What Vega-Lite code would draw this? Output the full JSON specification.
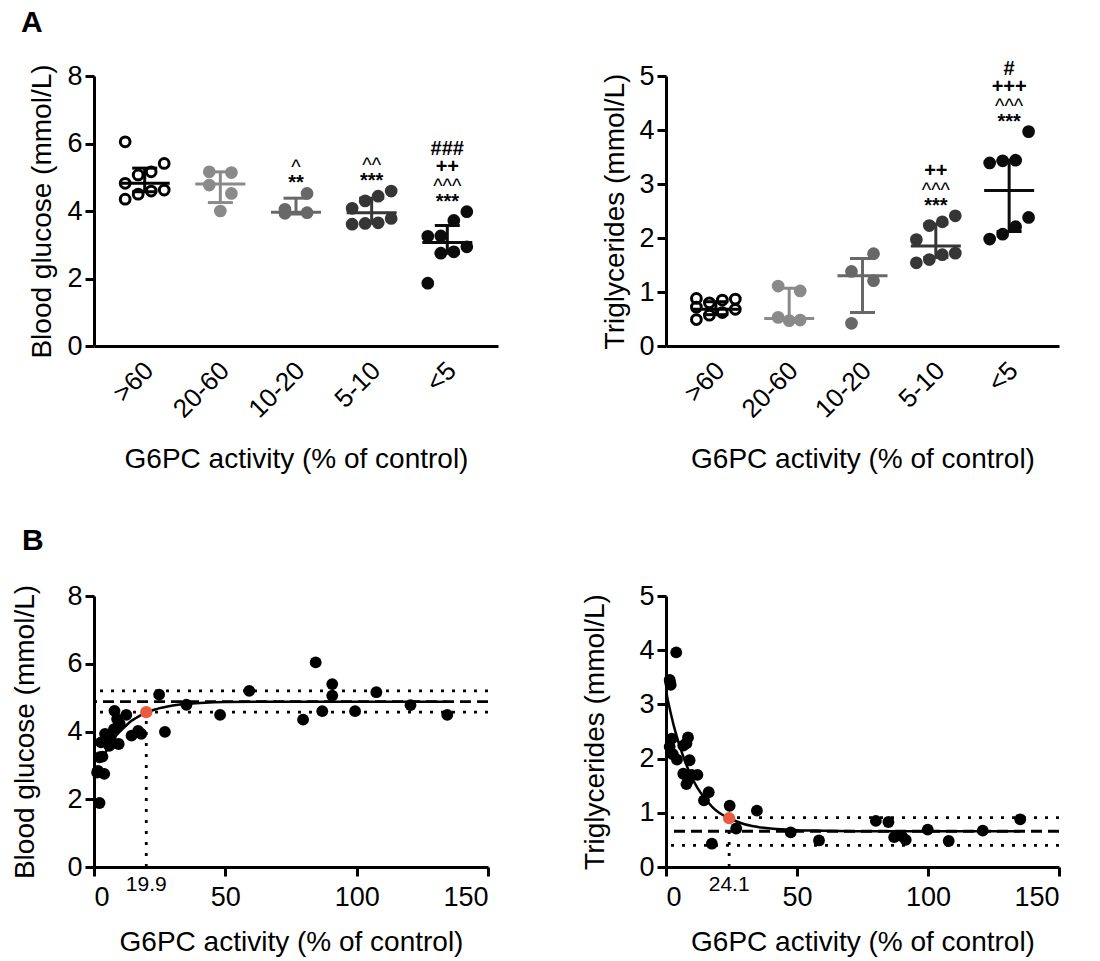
{
  "$schema": "https://vega.github.io/schema/vega-lite/v6.json",
  "background": "white",
  "padding": {"left": 11, "top": 8, "right": 5, "bottom": 2},
  "columns": 2,
  "spacing": {"row": 52, "column": 83},
  "datasets": {
    "gluA": [
      {"group": ">60", "value": 6.05}, {"group": ">60", "value": 5.41}, {"group": ">60", "value": 5.16}, {"group": ">60", "value": 5.07}, {"group": ">60", "value": 4.82}, {"group": ">60", "value": 4.62}, {"group": ">60", "value": 4.59}, {"group": ">60", "value": 4.50}, {"group": ">60", "value": 4.35},
      {"group": "20-60", "value": 5.16}, {"group": "20-60", "value": 5.14}, {"group": "20-60", "value": 4.77}, {"group": "20-60", "value": 4.52}, {"group": "20-60", "value": 4.00},
      {"group": "10-20", "value": 4.52}, {"group": "10-20", "value": 4.05}, {"group": "10-20", "value": 3.95}, {"group": "10-20", "value": 3.93},
      {"group": "5-10", "value": 4.59}, {"group": "5-10", "value": 4.44}, {"group": "5-10", "value": 4.30}, {"group": "5-10", "value": 4.08}, {"group": "5-10", "value": 3.78}, {"group": "5-10", "value": 3.65}, {"group": "5-10", "value": 3.63}, {"group": "5-10", "value": 3.61},
      {"group": "<5", "value": 3.98}, {"group": "<5", "value": 3.72}, {"group": "<5", "value": 3.26}, {"group": "<5", "value": 3.25}, {"group": "<5", "value": 2.94}, {"group": "<5", "value": 2.79}, {"group": "<5", "value": 2.75}, {"group": "<5", "value": 1.86}
    ],
    "tgA": [
      {"group": ">60", "value": 0.88}, {"group": ">60", "value": 0.87}, {"group": ">60", "value": 0.85}, {"group": ">60", "value": 0.80}, {"group": ">60", "value": 0.72}, {"group": ">60", "value": 0.68}, {"group": ">60", "value": 0.62}, {"group": ">60", "value": 0.57}, {"group": ">60", "value": 0.49},
      {"group": "20-60", "value": 1.11}, {"group": "20-60", "value": 1.02}, {"group": "20-60", "value": 0.53}, {"group": "20-60", "value": 0.48}, {"group": "20-60", "value": 0.47},
      {"group": "10-20", "value": 1.71}, {"group": "10-20", "value": 1.38}, {"group": "10-20", "value": 1.21}, {"group": "10-20", "value": 0.42},
      {"group": "5-10", "value": 2.41}, {"group": "5-10", "value": 2.30}, {"group": "5-10", "value": 2.23}, {"group": "5-10", "value": 1.97}, {"group": "5-10", "value": 1.72}, {"group": "5-10", "value": 1.69}, {"group": "5-10", "value": 1.60}, {"group": "5-10", "value": 1.54},
      {"group": "<5", "value": 3.97}, {"group": "<5", "value": 3.44}, {"group": "<5", "value": 3.43}, {"group": "<5", "value": 3.39}, {"group": "<5", "value": 2.38}, {"group": "<5", "value": 2.21}, {"group": "<5", "value": 2.07}, {"group": "<5", "value": 1.98}
    ],
    "gluSum": [
      {"group": ">60", "median": 4.82, "q1": 4.57, "q3": 5.27, "top": 6.05, "sig": ""},
      {"group": "20-60", "median": 4.80, "q1": 4.25, "q3": 5.16, "top": 5.16, "sig": ""},
      {"group": "10-20", "median": 3.96, "q1": 3.91, "q3": 4.38, "top": 4.52, "sig": "^\n**"},
      {"group": "5-10", "median": 3.95, "q1": 3.64, "q3": 4.38, "top": 4.59, "sig": "^^\n***"},
      {"group": "<5", "median": 3.07, "q1": 2.75, "q3": 3.57, "top": 3.98, "sig": "###\n++\n^^^\n***"}
    ],
    "tgSum": [
      {"group": ">60", "median": 0.68, "q1": 0.58, "q3": 0.82, "top": 0.88, "sig": ""},
      {"group": "20-60", "median": 0.51, "q1": 0.48, "q3": 1.07, "top": 1.11, "sig": ""},
      {"group": "10-20", "median": 1.30, "q1": 0.62, "q3": 1.62, "top": 1.71, "sig": ""},
      {"group": "5-10", "median": 1.85, "q1": 1.64, "q3": 2.26, "top": 2.41, "sig": "++\n^^^\n***"},
      {"group": "<5", "median": 2.88, "q1": 2.12, "q3": 3.44, "top": 3.97, "sig": "#\n+++\n^^^\n***"}
    ],
    "gluB": [
      {"activity": 2.1, "glucose": 1.89}, {"activity": 1.5, "glucose": 2.84}, {"activity": 3.9, "glucose": 2.75}, {"activity": 1.2, "glucose": 2.79}, {"activity": 2.1, "glucose": 3.24}, {"activity": 3.2, "glucose": 3.26}, {"activity": 2.7, "glucose": 3.68}, {"activity": 4.2, "glucose": 3.93},
      {"activity": 5.8, "glucose": 3.58}, {"activity": 6.4, "glucose": 3.78}, {"activity": 7.0, "glucose": 3.65}, {"activity": 7.6, "glucose": 4.07}, {"activity": 7.8, "glucose": 4.61}, {"activity": 8.8, "glucose": 4.37}, {"activity": 9.4, "glucose": 3.63}, {"activity": 9.8, "glucose": 4.22},
      {"activity": 12.3, "glucose": 4.49}, {"activity": 14.3, "glucose": 3.88}, {"activity": 16.8, "glucose": 4.02}, {"activity": 18.0, "glucose": 3.93},
      {"activity": 24.8, "glucose": 5.09}, {"activity": 27.0, "glucose": 3.99}, {"activity": 35.2, "glucose": 4.79}, {"activity": 48.0, "glucose": 4.49}, {"activity": 59.1, "glucose": 5.20},
      {"activity": 79.6, "glucose": 4.35}, {"activity": 84.4, "glucose": 6.04}, {"activity": 86.9, "glucose": 4.60}, {"activity": 90.7, "glucose": 5.40}, {"activity": 90.7, "glucose": 5.06}, {"activity": 99.4, "glucose": 4.60}, {"activity": 107.5, "glucose": 5.16}, {"activity": 120.5, "glucose": 4.78}, {"activity": 134.5, "glucose": 4.49}
    ],
    "tgB": [
      {"activity": 3.9, "tg": 3.96}, {"activity": 1.4, "tg": 3.45}, {"activity": 1.6, "tg": 3.40}, {"activity": 1.8, "tg": 3.36}, {"activity": 2.2, "tg": 2.37}, {"activity": 1.4, "tg": 2.22}, {"activity": 2.6, "tg": 2.08}, {"activity": 4.2, "tg": 1.98},
      {"activity": 6.6, "tg": 2.24}, {"activity": 8.4, "tg": 2.39}, {"activity": 7.8, "tg": 2.28}, {"activity": 9.0, "tg": 1.97}, {"activity": 6.6, "tg": 1.72}, {"activity": 8.4, "tg": 1.60}, {"activity": 7.8, "tg": 1.53}, {"activity": 9.8, "tg": 1.70},
      {"activity": 12.0, "tg": 1.70}, {"activity": 16.3, "tg": 1.38}, {"activity": 14.5, "tg": 1.23}, {"activity": 17.5, "tg": 0.43},
      {"activity": 24.3, "tg": 1.13}, {"activity": 26.8, "tg": 0.71}, {"activity": 34.7, "tg": 1.04}, {"activity": 47.6, "tg": 0.64}, {"activity": 58.4, "tg": 0.49},
      {"activity": 80.1, "tg": 0.85}, {"activity": 84.9, "tg": 0.83}, {"activity": 87.1, "tg": 0.55}, {"activity": 90.0, "tg": 0.57}, {"activity": 91.5, "tg": 0.50}, {"activity": 99.9, "tg": 0.69}, {"activity": 107.9, "tg": 0.48}, {"activity": 120.9, "tg": 0.67}, {"activity": 135.2, "tg": 0.88}
    ],
    "gluFit": [
      {"activity": 3, "glucose": 3.12}, {"activity": 4, "glucose": 3.31}, {"activity": 5, "glucose": 3.48}, {"activity": 6, "glucose": 3.62}, {"activity": 7, "glucose": 3.73}, {"activity": 8, "glucose": 3.84}, {"activity": 10, "glucose": 4.01}, {"activity": 12, "glucose": 4.16}, {"activity": 14, "glucose": 4.30}, {"activity": 16, "glucose": 4.40}, {"activity": 18, "glucose": 4.49}, {"activity": 19.9, "glucose": 4.57}, {"activity": 22, "glucose": 4.62}, {"activity": 25, "glucose": 4.69}, {"activity": 28, "glucose": 4.74}, {"activity": 32, "glucose": 4.79}, {"activity": 36, "glucose": 4.82}, {"activity": 42, "glucose": 4.85}, {"activity": 50, "glucose": 4.87}, {"activity": 65, "glucose": 4.88}, {"activity": 134.5, "glucose": 4.88}
    ],
    "tgFit": [
      {"activity": 0.3, "tg": 3.18}, {"activity": 1, "tg": 3.01}, {"activity": 2, "tg": 2.80}, {"activity": 3, "tg": 2.60}, {"activity": 4, "tg": 2.43}, {"activity": 5, "tg": 2.26}, {"activity": 6, "tg": 2.12}, {"activity": 8, "tg": 1.86}, {"activity": 10, "tg": 1.64}, {"activity": 12, "tg": 1.46}, {"activity": 14, "tg": 1.32}, {"activity": 16, "tg": 1.20}, {"activity": 18, "tg": 1.09}, {"activity": 20, "tg": 1.01}, {"activity": 22, "tg": 0.95}, {"activity": 24.1, "tg": 0.90}, {"activity": 27, "tg": 0.84}, {"activity": 30, "tg": 0.79}, {"activity": 35, "tg": 0.74}, {"activity": 40, "tg": 0.71}, {"activity": 50, "tg": 0.68}, {"activity": 60, "tg": 0.67}, {"activity": 80, "tg": 0.66}, {"activity": 135.2, "tg": 0.66}
    ],
    "gluRef": [
      {"glucose": 4.88, "kind": "plateau"}, {"glucose": 5.20, "kind": "bound"}, {"glucose": 4.57, "kind": "bound"}
    ],
    "tgRef": [
      {"tg": 0.66, "kind": "plateau"}, {"tg": 0.91, "kind": "bound"}, {"tg": 0.40, "kind": "bound"}
    ],
    "gluThr": [{"activity": 19.9, "glucose": 4.57, "label": "19.9"}],
    "tgThr": [{"activity": 24.1, "tg": 0.90, "label": "24.1"}]
  },
  "concat": [
    {
      "width": 404,
      "height": 270,
      "title": {"text": "A", "anchor": "start", "frame": "group", "fontSize": 30, "fontWeight": "bold", "dx": -73, "offset": 24},
      "layer": [
        {
          "data": {"name": "gluA"},
          "transform": [
            {"window": [{"op": "row_number", "as": "rank"}], "groupby": ["group"], "sort": [{"field": "value", "order": "ascending"}]},
            {"joinaggregate": [{"op": "count", "as": "n"}], "groupby": ["group"]},
            {"calculate": "datum.n >= 8 ? ((datum.rank - 1) % 4) - 1.5 : ((datum.rank == 1 && datum.n % 2 == 1) ? 0 : (datum.rank % 2 == 0 ? 0.85 : -0.85))", "as": "off"},
            {"calculate": "indexof(['>60','20-60','10-20','5-10','<5'], datum.group) + datum.off * 0.172", "as": "xpos"}
          ],
          "mark": {"type": "point", "shape": "circle", "size": 95, "strokeWidth": 3, "opacity": 1},
          "encoding": {
            "x": {"field": "xpos", "type": "quantitative", "scale": {"domain": [-0.67, 4.67], "nice": false, "zero": false},
                  "axis": {"title": "G6PC activity (% of control)", "values": [0, 1, 2, 3, 4], "labelExpr": "['>60','20-60','10-20','5-10','<5'][datum.value]", "ticks": false, "labelAngle": -45, "labelAlign": "right", "labelBaseline": "top", "labelPadding": 11, "labelOffset": -5, "labelFontSize": 26, "titlePadding": 23}},
            "y": {"field": "value", "type": "quantitative", "scale": {"domain": [0, 8], "nice": false},
                  "axis": {"title": "Blood glucose (mmol/L)", "values": [0, 2, 4, 6, 8], "titlePadding": 10}},
            "fill": {"field": "group", "type": "nominal", "scale": {"domain": [">60", "20-60", "10-20", "5-10", "<5"], "range": ["transparent", "#8a8a8a", "#686868", "#363636", "#0c0c0c"]}, "legend": null},
            "stroke": {"field": "group", "type": "nominal", "scale": {"domain": [">60", "20-60", "10-20", "5-10", "<5"], "range": ["#000000", "#8a8a8a", "#686868", "#363636", "#0c0c0c"]}, "legend": null}
          }
        },
        {
          "data": {"name": "gluSum"},
          "transform": [{"calculate": "indexof(['>60','20-60','10-20','5-10','<5'], datum.group)", "as": "xpos"}],
          "mark": {"type": "rule", "strokeWidth": 3},
          "encoding": {
            "x": {"field": "xpos", "type": "quantitative"},
            "y": {"field": "q1", "type": "quantitative"},
            "y2": {"field": "q3"},
            "stroke": {"field": "group", "type": "nominal", "legend": null}
          }
        },
        {
          "data": {"name": "gluSum"},
          "transform": [{"calculate": "indexof(['>60','20-60','10-20','5-10','<5'], datum.group)", "as": "xpos"}],
          "mark": {"type": "tick", "orient": "horizontal", "size": 50, "thickness": 3, "opacity": 1},
          "encoding": {
            "x": {"field": "xpos", "type": "quantitative"},
            "y": {"field": "median", "type": "quantitative"},
            "color": {"field": "group", "type": "nominal", "scale": {"domain": [">60", "20-60", "10-20", "5-10", "<5"], "range": ["#000000", "#8a8a8a", "#686868", "#363636", "#0c0c0c"]}, "legend": null}
          }
        },
        {
          "data": {"name": "gluSum"},
          "transform": [{"calculate": "indexof(['>60','20-60','10-20','5-10','<5'], datum.group)", "as": "xpos"}],
          "mark": {"type": "tick", "orient": "horizontal", "size": 25, "thickness": 3, "opacity": 1},
          "encoding": {
            "x": {"field": "xpos", "type": "quantitative"},
            "y": {"field": "q1", "type": "quantitative"},
            "color": {"field": "group", "type": "nominal", "scale": {"domain": [">60", "20-60", "10-20", "5-10", "<5"], "range": ["#000000", "#8a8a8a", "#686868", "#363636", "#0c0c0c"]}, "legend": null}
          }
        },
        {
          "data": {"name": "gluSum"},
          "transform": [{"calculate": "indexof(['>60','20-60','10-20','5-10','<5'], datum.group)", "as": "xpos"}],
          "mark": {"type": "tick", "orient": "horizontal", "size": 25, "thickness": 3, "opacity": 1},
          "encoding": {
            "x": {"field": "xpos", "type": "quantitative"},
            "y": {"field": "q3", "type": "quantitative"},
            "color": {"field": "group", "type": "nominal", "scale": {"domain": [">60", "20-60", "10-20", "5-10", "<5"], "range": ["#000000", "#8a8a8a", "#686868", "#363636", "#0c0c0c"]}, "legend": null}
          }
        },
        {
          "data": {"name": "gluSum"},
          "transform": [
            {"filter": "datum.sig != ''"},
            {"calculate": "split(datum.sig, '\\n')", "as": "lines"},
            {"calculate": "length(datum.lines) > 0 ? datum.lines[length(datum.lines) - 1] : ''", "as": "t"},
            {"filter": "datum.t != ''"},
            {"calculate": "indexof(['>60','20-60','10-20','5-10','<5'], datum.group)", "as": "xpos"}
          ],
          "mark": {"type": "text", "fontSize": 20, "fontWeight": "bold", "baseline": "alphabetic", "dy": -4, "color": "#000"},
          "encoding": {"x": {"field": "xpos", "type": "quantitative"}, "y": {"field": "top", "type": "quantitative"}, "text": {"field": "t", "type": "nominal"}}
        },
        {
          "data": {"name": "gluSum"},
          "transform": [
            {"filter": "datum.sig != ''"},
            {"calculate": "split(datum.sig, '\\n')", "as": "lines"},
            {"calculate": "length(datum.lines) > 1 ? datum.lines[length(datum.lines) - 2] : ''", "as": "t"},
            {"filter": "datum.t != ''"},
            {"calculate": "indexof(['>60','20-60','10-20','5-10','<5'], datum.group)", "as": "xpos"}
          ],
          "mark": {"type": "text", "fontSize": 20, "fontWeight": "normal", "baseline": "alphabetic", "dy": -19, "color": "#000"},
          "encoding": {"x": {"field": "xpos", "type": "quantitative"}, "y": {"field": "top", "type": "quantitative"}, "text": {"field": "t", "type": "nominal"}}
        },
        {
          "data": {"name": "gluSum"},
          "transform": [
            {"filter": "datum.sig != ''"},
            {"calculate": "split(datum.sig, '\\n')", "as": "lines"},
            {"calculate": "length(datum.lines) > 2 ? datum.lines[length(datum.lines) - 3] : ''", "as": "t"},
            {"filter": "datum.t != ''"},
            {"calculate": "indexof(['>60','20-60','10-20','5-10','<5'], datum.group)", "as": "xpos"}
          ],
          "mark": {"type": "text", "fontSize": 20, "fontWeight": "bold", "baseline": "alphabetic", "dy": -39, "color": "#000"},
          "encoding": {"x": {"field": "xpos", "type": "quantitative"}, "y": {"field": "top", "type": "quantitative"}, "text": {"field": "t", "type": "nominal"}}
        },
        {
          "data": {"name": "gluSum"},
          "transform": [
            {"filter": "datum.sig != ''"},
            {"calculate": "split(datum.sig, '\\n')", "as": "lines"},
            {"calculate": "length(datum.lines) > 3 ? datum.lines[length(datum.lines) - 4] : ''", "as": "t"},
            {"filter": "datum.t != ''"},
            {"calculate": "indexof(['>60','20-60','10-20','5-10','<5'], datum.group)", "as": "xpos"}
          ],
          "mark": {"type": "text", "fontSize": 20, "fontWeight": "bold", "baseline": "alphabetic", "dy": -57, "color": "#000"},
          "encoding": {"x": {"field": "xpos", "type": "quantitative"}, "y": {"field": "top", "type": "quantitative"}, "text": {"field": "t", "type": "nominal"}}
        }
      ]
    },
    {
      "width": 393,
      "height": 270,
      "layer": [
        {
          "data": {"name": "tgA"},
          "transform": [
            {"window": [{"op": "row_number", "as": "rank"}], "groupby": ["group"], "sort": [{"field": "value", "order": "ascending"}]},
            {"joinaggregate": [{"op": "count", "as": "n"}], "groupby": ["group"]},
            {"calculate": "datum.n >= 8 ? ((datum.rank - 1) % 4) - 1.5 : ((datum.rank == 1 && datum.n % 2 == 1) ? 0 : (datum.rank % 2 == 0 ? 0.85 : -0.85))", "as": "off"},
            {"calculate": "indexof(['>60','20-60','10-20','5-10','<5'], datum.group) + datum.off * 0.177", "as": "xpos"}
          ],
          "mark": {"type": "point", "shape": "circle", "size": 95, "strokeWidth": 3, "opacity": 1},
          "encoding": {
            "x": {"field": "xpos", "type": "quantitative", "scale": {"domain": [-0.68, 4.68], "nice": false, "zero": false},
                  "axis": {"title": "G6PC activity (% of control)", "values": [0, 1, 2, 3, 4], "labelExpr": "['>60','20-60','10-20','5-10','<5'][datum.value]", "ticks": false, "labelAngle": -45, "labelAlign": "right", "labelBaseline": "top", "labelPadding": 11, "labelOffset": -5, "labelFontSize": 26, "titlePadding": 23}},
            "y": {"field": "value", "type": "quantitative", "scale": {"domain": [0, 5], "nice": false},
                  "axis": {"title": "Triglycerides (mmol/L)", "values": [0, 1, 2, 3, 4, 5], "titlePadding": 9}},
            "fill": {"field": "group", "type": "nominal", "scale": {"domain": [">60", "20-60", "10-20", "5-10", "<5"], "range": ["transparent", "#8a8a8a", "#686868", "#363636", "#0c0c0c"]}, "legend": null},
            "stroke": {"field": "group", "type": "nominal", "scale": {"domain": [">60", "20-60", "10-20", "5-10", "<5"], "range": ["#000000", "#8a8a8a", "#686868", "#363636", "#0c0c0c"]}, "legend": null}
          }
        },
        {
          "data": {"name": "tgSum"},
          "transform": [{"calculate": "indexof(['>60','20-60','10-20','5-10','<5'], datum.group)", "as": "xpos"}],
          "mark": {"type": "rule", "strokeWidth": 3},
          "encoding": {
            "x": {"field": "xpos", "type": "quantitative"},
            "y": {"field": "q1", "type": "quantitative"},
            "y2": {"field": "q3"},
            "stroke": {"field": "group", "type": "nominal", "legend": null}
          }
        },
        {
          "data": {"name": "tgSum"},
          "transform": [{"calculate": "indexof(['>60','20-60','10-20','5-10','<5'], datum.group)", "as": "xpos"}],
          "mark": {"type": "tick", "orient": "horizontal", "size": 50, "thickness": 3, "opacity": 1},
          "encoding": {
            "x": {"field": "xpos", "type": "quantitative"},
            "y": {"field": "median", "type": "quantitative"},
            "color": {"field": "group", "type": "nominal", "scale": {"domain": [">60", "20-60", "10-20", "5-10", "<5"], "range": ["#000000", "#8a8a8a", "#686868", "#363636", "#0c0c0c"]}, "legend": null}
          }
        },
        {
          "data": {"name": "tgSum"},
          "transform": [{"calculate": "indexof(['>60','20-60','10-20','5-10','<5'], datum.group)", "as": "xpos"}],
          "mark": {"type": "tick", "orient": "horizontal", "size": 25, "thickness": 3, "opacity": 1},
          "encoding": {
            "x": {"field": "xpos", "type": "quantitative"},
            "y": {"field": "q1", "type": "quantitative"},
            "color": {"field": "group", "type": "nominal", "scale": {"domain": [">60", "20-60", "10-20", "5-10", "<5"], "range": ["#000000", "#8a8a8a", "#686868", "#363636", "#0c0c0c"]}, "legend": null}
          }
        },
        {
          "data": {"name": "tgSum"},
          "transform": [{"calculate": "indexof(['>60','20-60','10-20','5-10','<5'], datum.group)", "as": "xpos"}],
          "mark": {"type": "tick", "orient": "horizontal", "size": 25, "thickness": 3, "opacity": 1},
          "encoding": {
            "x": {"field": "xpos", "type": "quantitative"},
            "y": {"field": "q3", "type": "quantitative"},
            "color": {"field": "group", "type": "nominal", "scale": {"domain": [">60", "20-60", "10-20", "5-10", "<5"], "range": ["#000000", "#8a8a8a", "#686868", "#363636", "#0c0c0c"]}, "legend": null}
          }
        },
        {
          "data": {"name": "tgSum"},
          "transform": [
            {"filter": "datum.sig != ''"},
            {"calculate": "split(datum.sig, '\\n')", "as": "lines"},
            {"calculate": "length(datum.lines) > 0 ? datum.lines[length(datum.lines) - 1] : ''", "as": "t"},
            {"filter": "datum.t != ''"},
            {"calculate": "indexof(['>60','20-60','10-20','5-10','<5'], datum.group)", "as": "xpos"}
          ],
          "mark": {"type": "text", "fontSize": 20, "fontWeight": "bold", "baseline": "alphabetic", "dy": -4, "color": "#000"},
          "encoding": {"x": {"field": "xpos", "type": "quantitative"}, "y": {"field": "top", "type": "quantitative"}, "text": {"field": "t", "type": "nominal"}}
        },
        {
          "data": {"name": "tgSum"},
          "transform": [
            {"filter": "datum.sig != ''"},
            {"calculate": "split(datum.sig, '\\n')", "as": "lines"},
            {"calculate": "length(datum.lines) > 1 ? datum.lines[length(datum.lines) - 2] : ''", "as": "t"},
            {"filter": "datum.t != ''"},
            {"calculate": "indexof(['>60','20-60','10-20','5-10','<5'], datum.group)", "as": "xpos"}
          ],
          "mark": {"type": "text", "fontSize": 20, "fontWeight": "normal", "baseline": "alphabetic", "dy": -19, "color": "#000"},
          "encoding": {"x": {"field": "xpos", "type": "quantitative"}, "y": {"field": "top", "type": "quantitative"}, "text": {"field": "t", "type": "nominal"}}
        },
        {
          "data": {"name": "tgSum"},
          "transform": [
            {"filter": "datum.sig != ''"},
            {"calculate": "split(datum.sig, '\\n')", "as": "lines"},
            {"calculate": "length(datum.lines) > 2 ? datum.lines[length(datum.lines) - 3] : ''", "as": "t"},
            {"filter": "datum.t != ''"},
            {"calculate": "indexof(['>60','20-60','10-20','5-10','<5'], datum.group)", "as": "xpos"}
          ],
          "mark": {"type": "text", "fontSize": 20, "fontWeight": "bold", "baseline": "alphabetic", "dy": -39, "color": "#000"},
          "encoding": {"x": {"field": "xpos", "type": "quantitative"}, "y": {"field": "top", "type": "quantitative"}, "text": {"field": "t", "type": "nominal"}}
        },
        {
          "data": {"name": "tgSum"},
          "transform": [
            {"filter": "datum.sig != ''"},
            {"calculate": "split(datum.sig, '\\n')", "as": "lines"},
            {"calculate": "length(datum.lines) > 3 ? datum.lines[length(datum.lines) - 4] : ''", "as": "t"},
            {"filter": "datum.t != ''"},
            {"calculate": "indexof(['>60','20-60','10-20','5-10','<5'], datum.group)", "as": "xpos"}
          ],
          "mark": {"type": "text", "fontSize": 20, "fontWeight": "bold", "baseline": "alphabetic", "dy": -57, "color": "#000"},
          "encoding": {"x": {"field": "xpos", "type": "quantitative"}, "y": {"field": "top", "type": "quantitative"}, "text": {"field": "t", "type": "nominal"}}
        }
      ]
    },
    {
      "width": 394,
      "height": 271,
      "title": {"text": "B", "anchor": "start", "frame": "group", "fontSize": 30, "fontWeight": "bold", "dx": -72, "offset": 26},
      "layer": [
        {
          "data": {"name": "gluRef"},
          "mark": {"type": "rule", "strokeWidth": 2.8, "color": "#000"},
          "encoding": {
            "y": {"field": "glucose", "type": "quantitative", "scale": {"domain": [0, 8], "nice": false},
                  "axis": {"title": "Blood glucose (mmol/L)", "values": [0, 2, 4, 6, 8], "titlePadding": 27}},
            "strokeDash": {"field": "kind", "type": "nominal", "scale": {"domain": ["plateau", "bound"], "range": [[11, 6], [3, 8]]}, "legend": null}
          }
        },
        {
          "data": {"name": "gluThr"},
          "transform": [{"calculate": "0", "as": "base"}],
          "mark": {"type": "rule", "strokeWidth": 2.8, "strokeDash": [3, 8], "color": "#000"},
          "encoding": {
            "x": {"field": "activity", "type": "quantitative"},
            "y": {"field": "base", "type": "quantitative"},
            "y2": {"field": "glucose"}
          }
        },
        {
          "data": {"name": "gluFit"},
          "mark": {"type": "line", "color": "#000", "strokeWidth": 2.5, "interpolate": "monotone"},
          "encoding": {
            "x": {"field": "activity", "type": "quantitative", "scale": {"domain": [0, 150], "nice": false},
                  "axis": {"title": "G6PC activity (% of control)", "values": [0, 50, 100, 150], "labelPadding": 8, "titlePadding": 18}},
            "y": {"field": "glucose", "type": "quantitative"}
          }
        },
        {
          "data": {"name": "gluB"},
          "mark": {"type": "circle", "size": 140, "color": "#000", "opacity": 1},
          "encoding": {
            "x": {"field": "activity", "type": "quantitative"},
            "y": {"field": "glucose", "type": "quantitative"}
          }
        },
        {
          "data": {"name": "gluThr"},
          "mark": {"type": "circle", "size": 150, "color": "#ea5a3c", "opacity": 1},
          "encoding": {
            "x": {"field": "activity", "type": "quantitative"},
            "y": {"field": "glucose", "type": "quantitative"}
          }
        },
        {
          "data": {"name": "gluThr"},
          "transform": [{"calculate": "0", "as": "base"}],
          "mark": {"type": "text", "fontSize": 21, "baseline": "top", "dy": 7, "color": "#000"},
          "encoding": {
            "x": {"field": "activity", "type": "quantitative"},
            "y": {"field": "base", "type": "quantitative"},
            "text": {"field": "label", "type": "nominal"}
          }
        }
      ]
    },
    {
      "width": 393,
      "height": 271,
      "layer": [
        {
          "data": {"name": "tgRef"},
          "mark": {"type": "rule", "strokeWidth": 2.8, "color": "#000"},
          "encoding": {
            "y": {"field": "tg", "type": "quantitative", "scale": {"domain": [0, 5], "nice": false},
                  "axis": {"title": "Triglycerides (mmol/L)", "values": [0, 1, 2, 3, 4, 5], "titlePadding": 29}},
            "strokeDash": {"field": "kind", "type": "nominal", "scale": {"domain": ["plateau", "bound"], "range": [[11, 6], [3, 8]]}, "legend": null}
          }
        },
        {
          "data": {"name": "tgThr"},
          "transform": [{"calculate": "0", "as": "base"}],
          "mark": {"type": "rule", "strokeWidth": 2.8, "strokeDash": [3, 8], "color": "#000"},
          "encoding": {
            "x": {"field": "activity", "type": "quantitative"},
            "y": {"field": "base", "type": "quantitative"},
            "y2": {"field": "tg"}
          }
        },
        {
          "data": {"name": "tgFit"},
          "mark": {"type": "line", "color": "#000", "strokeWidth": 2.5, "interpolate": "monotone"},
          "encoding": {
            "x": {"field": "activity", "type": "quantitative", "scale": {"domain": [0, 150], "nice": false},
                  "axis": {"title": "G6PC activity (% of control)", "values": [0, 50, 100, 150], "labelPadding": 8, "titlePadding": 18}},
            "y": {"field": "tg", "type": "quantitative"}
          }
        },
        {
          "data": {"name": "tgB"},
          "mark": {"type": "circle", "size": 140, "color": "#000", "opacity": 1},
          "encoding": {
            "x": {"field": "activity", "type": "quantitative"},
            "y": {"field": "tg", "type": "quantitative"}
          }
        },
        {
          "data": {"name": "tgThr"},
          "mark": {"type": "circle", "size": 150, "color": "#ea5a3c", "opacity": 1},
          "encoding": {
            "x": {"field": "activity", "type": "quantitative"},
            "y": {"field": "tg", "type": "quantitative"}
          }
        },
        {
          "data": {"name": "tgThr"},
          "transform": [{"calculate": "0", "as": "base"}],
          "mark": {"type": "text", "fontSize": 21, "baseline": "top", "dy": 7, "color": "#000"},
          "encoding": {
            "x": {"field": "activity", "type": "quantitative"},
            "y": {"field": "base", "type": "quantitative"},
            "text": {"field": "label", "type": "nominal"}
          }
        }
      ]
    }
  ],
  "config": {
    "font": "Liberation Sans",
    "view": {"stroke": null},
    "axis": {
      "domainColor": "#000", "domainWidth": 3, "tickColor": "#000", "tickWidth": 3, "tickSize": 9,
      "labelColor": "#000", "titleColor": "#000", "labelFontSize": 27, "titleFontSize": 28, "titleFontWeight": "normal",
      "labelPadding": 3, "grid": false, "labelFont": "Liberation Sans", "titleFont": "Liberation Sans"
    },
    "legend": {"disable": true},
    "title": {"font": "Liberation Sans", "color": "#000"}
  }
}
